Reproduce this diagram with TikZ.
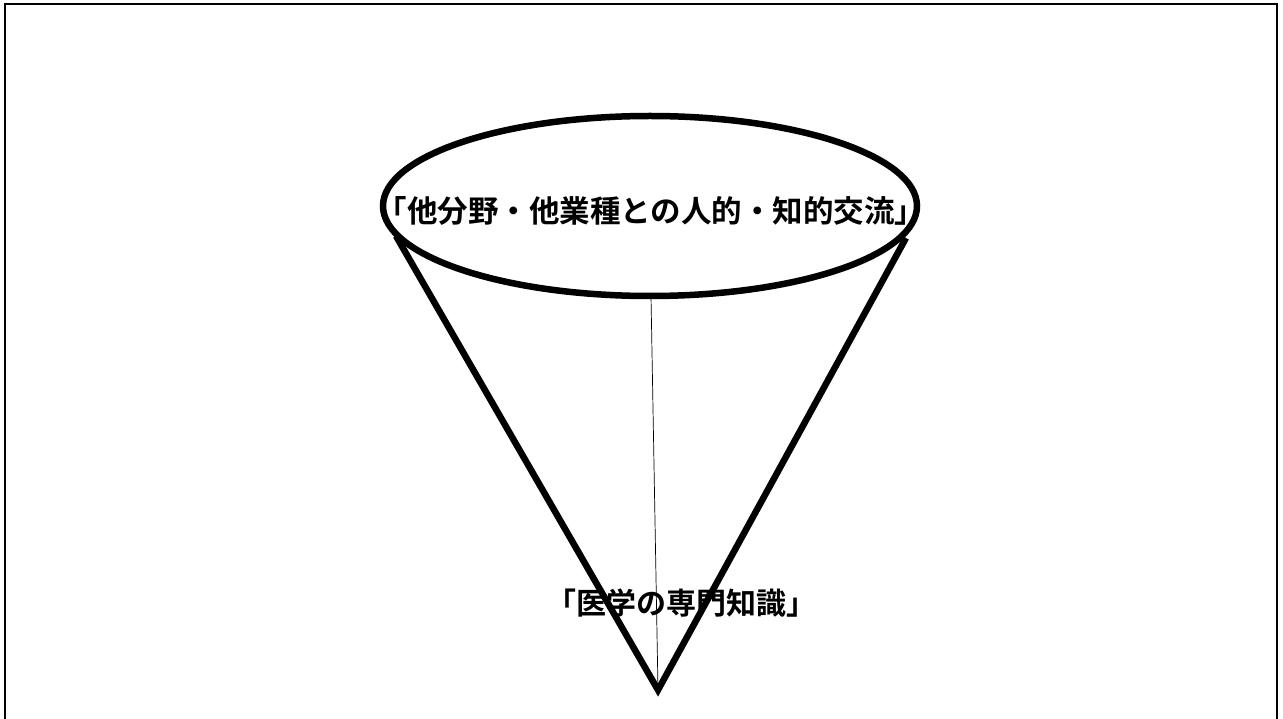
\documentclass[tikz,border=0pt]{standalone}
\usepackage{fontspec}
\newfontfamily\cjk{Noto Sans CJK JP Bold}
\begin{document}
\begin{tikzpicture}[x=1pt,y=-1pt,
  thick line/.style={line width=6.5pt,line join=miter},
  label/.style={font=\cjk, inner sep=0pt}]
\useasboundingbox (0,0) rectangle (1283,719);
\clip (0,0) rectangle (1283,719);
\draw[line width=2.5pt] (5,730) -- (5,4) -- (1277,4) -- (1277,730);
\coordinate (apex) at (658,690);
\coordinate (lefttop) at (396,236);
\coordinate (righttop) at (906,238);
\coordinate (bottom) at (651,296);
\draw[thick line] (lefttop) -- (apex) -- (righttop);
\draw[line width=0.7pt] (bottom) -- (apex);
\draw[thick line] (650,206) ellipse [x radius=267, y radius=90];
\node[label, font=\cjk\fontsize{30.5}{36}\selectfont] (top) at (651,211) {「他分野・他業種との人的・知的交流」};
\node[label, font=\cjk\fontsize{30}{36}\selectfont] (med) at (681,603) {「医学の専門知識」};
\end{tikzpicture}
\end{document}
